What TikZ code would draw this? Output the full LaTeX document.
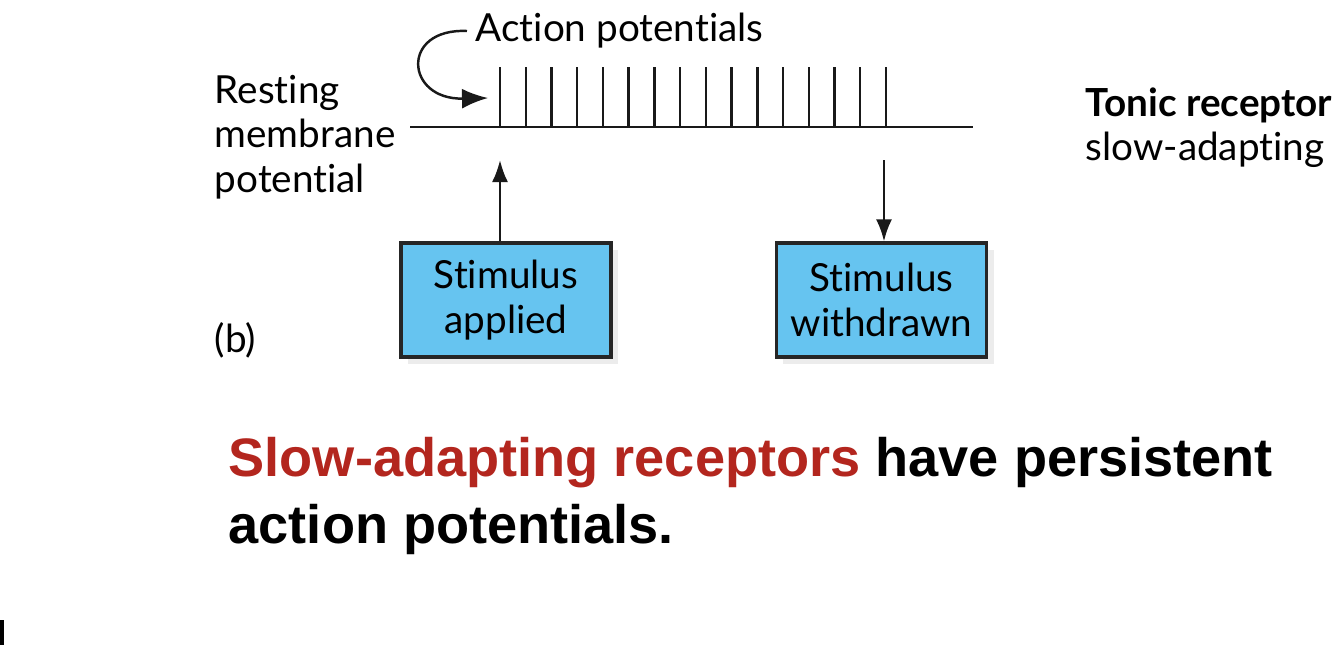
\documentclass[tikz,border=0pt]{standalone}
\usepackage{fontspec}
\setmainfont[Ligatures={NoCommon}]{Lato}
\newfontfamily\arialfont{Liberation Sans}
\usetikzlibrary{arrows.meta, shadows}

\definecolor{boxblue}{HTML}{66C4F0}
\definecolor{slowred}{HTML}{B3261E}

\tikzset{
  trace/.style={line width=0.7pt, black!90},
  arr/.style={line width=0.7pt, black!90, -{Latex[length=2.2mm, width=1.6mm]}},
  stimbox/.style={draw=black!85, line width=0.9pt, fill=boxblue, align=center,
    minimum width=2.1cm, minimum height=1.14cm, inner sep=0pt,
    drop shadow={opacity=0.15, shadow xshift=2pt, shadow yshift=-2pt}},
  lbl/.style={font=\fontsize{11}{12.6}\selectfont, inner sep=0pt, align=left}
}

\begin{document}
\begin{tikzpicture}[x=0.01cm, y=-0.01cm]
  \useasboundingbox (0,0) rectangle (1341,645);

  % baseline and spikes
  \coordinate (b0) at (410,127);
  \coordinate (b1) at (973,127);
  \draw[trace] (b0) -- (b1);
  \foreach \i in {0,...,15}
    \draw[trace] (500+25.73*\i,127) -- ++(0,-60);

  % labels
  \node[lbl, anchor=west] (aptext) at (475,31) {Action potentials};
  \coordinate (aptip) at (488,98);
  \draw[arr, -{Latex[length=2.6mm, width=2mm]}] ([xshift=-0.08cm]aptext.west) .. controls (400,28) and (405,100) .. (aptip);

  \node[lbl, anchor=west] (rest) at (214,137) {Resting\\membrane\\potential};
  \node[lbl, anchor=west] (tonic) at (1085,128) {\textbf{Tonic receptor}\\slow-adapting};

  % stimulus boxes
  \node[stimbox, lbl, align=center] (applied) at (506,300) {Stimulus\\applied};
  \node[stimbox, lbl, align=center] (withdrawn) at (881.5,300) {Stimulus\\withdrawn};

  \coordinate (upend) at (500,160);
  \coordinate (downstart) at (884,160);
  \draw[arr] (applied.north -| upend) -- (upend);
  \draw[arr] (downstart) -- (withdrawn.north -| downstart);

  \node[lbl, anchor=west] (part) at (214,340) {(b)};

  % caption
  \node[anchor=north west, inner sep=0pt, align=left,
    font=\arialfont\bfseries\fontsize{15.4}{19}\selectfont] (summary) at (228,437)
    {\textcolor{slowred}{Slow-adapting receptors} have persistent\\action potentials.};

  \fill (0,620) rectangle (4,645);
\end{tikzpicture}
\end{document}
